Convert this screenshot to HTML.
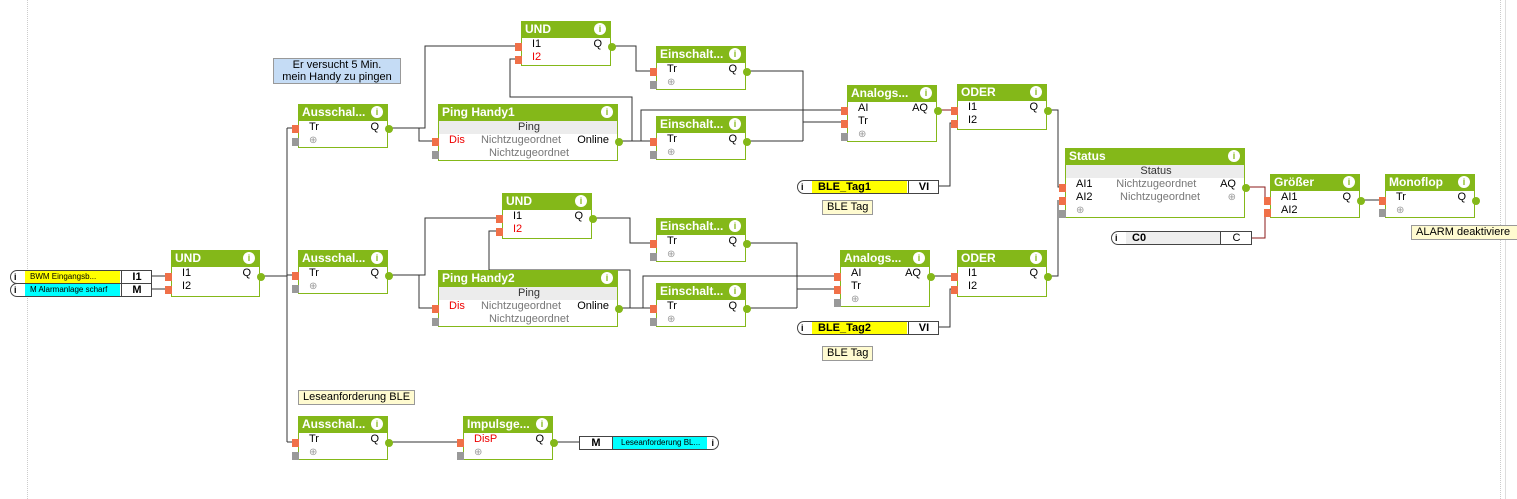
<!DOCTYPE html>
<html><head><meta charset="utf-8"><style>
body{margin:0;width:1517px;height:499px;background:#fff;position:relative;overflow:hidden;font-family:"Liberation Sans",sans-serif;font-size:11px;}
.b{position:absolute;background:#fff;border:1px solid #84b819;box-sizing:border-box;}
.h{background:#84b819;color:#fff;font-weight:bold;font-size:12px;height:17px;line-height:17px;padding-left:4px;position:relative;margin:-1px -1px 0 -1px;}
.h i{position:absolute;right:5px;top:2px;width:12px;height:12px;border-radius:6px;background:#fff;color:#84b819;font-style:normal;font-size:9px;line-height:12px;text-align:center;font-weight:bold;}
.r{height:13px;line-height:13px;padding:0 8px 0 10px;display:flex;justify-content:space-between;color:#000;white-space:nowrap;}
.g{background:#ececec;justify-content:center;color:#333;}
.n{color:#777;}
.red{color:#e00;}
.pl{color:#999;font-size:10px;}
.pi{position:absolute;left:-7px;width:7px;height:8px;background:#f07048;}
.px{position:absolute;left:-7px;width:7px;height:8px;background:#999;}
.po{position:absolute;right:-6px;width:8px;height:8px;border-radius:4px;background:#84b819;}
.lab{position:absolute;background:#fffbd0;border:1px solid #999;font-size:11px;line-height:13px;padding:0 4px;white-space:nowrap;}
.io{position:absolute;height:12px;border:1px solid #444;border-radius:7px 0 0 7px;background:#fff;font-size:11px;line-height:12px;}
.io .ic{position:absolute;left:3px;top:0;font-weight:bold;font-size:9px;}
.io .t{position:absolute;top:0;height:12px;}
</style></head><body>
<div style="position:absolute;left:27px;top:0;height:499px;border-left:1px dotted #ccc"></div>
<div style="position:absolute;left:1500px;top:0;height:499px;border-left:1px dotted #ccc"></div>
<div style="position:absolute;left:1505px;top:0;height:499px;border-left:1px solid #ddd"></div>
<svg width="1517" height="499" style="position:absolute;left:0;top:0" fill="none" stroke="#333" stroke-width="1">
<path d="M260 276H287M287 128V442M287 128H298M287 275H298M287 442H298"/>
<path d="M388 128H425V46H521M419 128V141H438"/>
<path d="M618 141H656M632 141V97H510V59H521M641 141V110H847"/>
<path d="M611 46H636V71H656"/>
<path d="M746 71H803V141M746 141H803M803 122H847"/>
<path d="M938 186H950V123H957"/>
<path d="M1047 110H1058V187H1065M1047 276H1058V200"/>
<path d="M1360 200H1385"/>
<path d="M388 275H425V218H502M419 275V308H438"/>
<path d="M618 308H656M630 308V270H489V231H502M643 308V276H840"/>
<path d="M592 218H630V243H656"/>
<path d="M746 243H797V308M746 308H797M797 289H840"/>
<path d="M930 276H957"/>
<path d="M938 327H950V289H957"/>
<path d="M388 442H463M553 442H579"/>
<path d="M151 276H171M151 289H171"/>
<path stroke="#8b1a1a" d="M937 110H957M1245 187H1265V200H1270M1251 238H1265V212H1270"/>
</svg>

<div class="lab" style="left:273px;top:58px;width:118px;background:#c5dcf5;text-align:center;line-height:12px">Er versucht 5 Min.<br>mein Handy zu pingen</div>
<div class="lab" style="left:298px;top:390px">Leseanforderung BLE</div>
<div class="lab" style="left:822px;top:200px">BLE Tag</div>
<div class="lab" style="left:822px;top:346px">BLE Tag</div>
<div class="lab" style="left:1411px;top:225px;padding-right:10px">ALARM deaktiviere</div>

<div class="io" style="left:10px;top:270px;width:140px"><span class="ic">i</span><span class="t" style="left:14px;width:95px;background:#ff0;font-size:8px;padding-left:5px;box-sizing:border-box">BWM Eingangsb...</span><span class="t" style="left:110px;width:30px;border-left:1px solid #444;text-align:center;font-weight:bold">I1</span></div>
<div class="io" style="left:10px;top:283px;width:140px"><span class="ic">i</span><span class="t" style="left:14px;width:95px;background:#0ff;font-size:8px;padding-left:5px;box-sizing:border-box">M Alarmanlage scharf</span><span class="t" style="left:110px;width:30px;border-left:1px solid #444;text-align:center;font-weight:bold">M</span></div>
<div class="io" style="left:797px;top:180px;width:140px"><span class="ic">i</span><span class="t" style="left:14px;width:95px;background:#ff0;padding-left:6px;box-sizing:border-box;font-weight:bold">BLE_Tag1</span><span class="t" style="left:110px;width:30px;border-left:1px solid #444;text-align:center;font-weight:bold">VI</span></div>
<div class="io" style="left:797px;top:321px;width:140px"><span class="ic">i</span><span class="t" style="left:14px;width:95px;background:#ff0;padding-left:6px;box-sizing:border-box;font-weight:bold">BLE_Tag2</span><span class="t" style="left:110px;width:30px;border-left:1px solid #444;text-align:center;font-weight:bold">VI</span></div>
<div class="io" style="left:1111px;top:231px;width:139px"><span class="ic">i</span><span class="t" style="left:14px;width:94px;background:#eee;padding-left:6px;box-sizing:border-box;font-weight:bold">C0</span><span class="t" style="left:108px;width:31px;border-left:1px solid #444;text-align:center">C</span></div>
<div class="io" style="left:579px;top:436px;width:138px;border-radius:0 7px 7px 0"><span class="t" style="left:0;width:32px;text-align:center;font-weight:bold;border-right:1px solid #444">M</span><span class="t" style="left:33px;width:94px;background:#0ff;font-size:8px;padding-left:8px;box-sizing:border-box">Leseanforderung BL...</span><span style="position:absolute;right:4px;top:0;font-weight:bold;font-size:9px">i</span></div>

<div class="b" style="left:171px;top:250px;width:89px;height:47px"><div class="h">UND<i>i</i></div><div class="r"><span>I1</span><span>Q</span></div><div class="r">I2</div><span class="pi" style="top:22px"></span><span class="pi" style="top:35px"></span><span class="po" style="top:22px"></span></div>

<div class="b" style="left:298px;top:104px;width:90px;height:44px"><div class="h">Ausschal...<i>i</i></div><div class="r"><span>Tr</span><span>Q</span></div><div class="r pl">⊕</div><span class="pi" style="top:20px"></span><span class="px" style="top:33px"></span><span class="po" style="top:20px"></span></div>
<div class="b" style="left:298px;top:250px;width:90px;height:44px"><div class="h">Ausschal...<i>i</i></div><div class="r"><span>Tr</span><span>Q</span></div><div class="r pl">⊕</div><span class="pi" style="top:21px"></span><span class="px" style="top:34px"></span><span class="po" style="top:21px"></span></div>
<div class="b" style="left:298px;top:416px;width:90px;height:44px"><div class="h">Ausschal...<i>i</i></div><div class="r"><span>Tr</span><span>Q</span></div><div class="r pl">⊕</div><span class="pi" style="top:22px"></span><span class="px" style="top:35px"></span><span class="po" style="top:22px"></span></div>

<div class="b" style="left:521px;top:21px;width:90px;height:45px"><div class="h">UND<i>i</i></div><div class="r"><span>I1</span><span>Q</span></div><div class="r red">I2</div><span class="pi" style="top:21px"></span><span class="pi" style="top:34px"></span><span class="po" style="top:21px"></span></div>
<div class="b" style="left:502px;top:193px;width:90px;height:46px"><div class="h">UND<i>i</i></div><div class="r"><span>I1</span><span>Q</span></div><div class="r red">I2</div><span class="pi" style="top:21px"></span><span class="pi" style="top:34px"></span><span class="po" style="top:21px"></span></div>

<div class="b" style="left:438px;top:104px;width:180px;height:57px"><div class="h">Ping Handy1<i>i</i></div><div class="r g">Ping</div><div class="r"><span class="red">Dis</span><span class="n">Nichtzugeordnet</span><span>Online</span></div><div class="r n" style="justify-content:center">Nichtzugeordnet</div><span class="pi" style="top:33px"></span><span class="px" style="top:46px"></span><span class="po" style="top:33px"></span></div>
<div class="b" style="left:438px;top:270px;width:180px;height:57px"><div class="h">Ping Handy2<i>i</i></div><div class="r g">Ping</div><div class="r"><span class="red">Dis</span><span class="n">Nichtzugeordnet</span><span>Online</span></div><div class="r n" style="justify-content:center">Nichtzugeordnet</div><span class="pi" style="top:34px"></span><span class="px" style="top:47px"></span><span class="po" style="top:34px"></span></div>

<div class="b" style="left:656px;top:46px;width:90px;height:44px"><div class="h">Einschalt...<i>i</i></div><div class="r"><span>Tr</span><span>Q</span></div><div class="r pl">⊕</div><span class="pi" style="top:21px"></span><span class="px" style="top:34px"></span><span class="po" style="top:21px"></span></div>
<div class="b" style="left:656px;top:116px;width:90px;height:44px"><div class="h">Einschalt...<i>i</i></div><div class="r"><span>Tr</span><span>Q</span></div><div class="r pl">⊕</div><span class="pi" style="top:21px"></span><span class="px" style="top:34px"></span><span class="po" style="top:21px"></span></div>
<div class="b" style="left:656px;top:218px;width:90px;height:44px"><div class="h">Einschalt...<i>i</i></div><div class="r"><span>Tr</span><span>Q</span></div><div class="r pl">⊕</div><span class="pi" style="top:21px"></span><span class="px" style="top:34px"></span><span class="po" style="top:21px"></span></div>
<div class="b" style="left:656px;top:283px;width:90px;height:44px"><div class="h">Einschalt...<i>i</i></div><div class="r"><span>Tr</span><span>Q</span></div><div class="r pl">⊕</div><span class="pi" style="top:21px"></span><span class="px" style="top:34px"></span><span class="po" style="top:21px"></span></div>

<div class="b" style="left:847px;top:85px;width:90px;height:57px"><div class="h">Analogs...<i>i</i></div><div class="r"><span>AI</span><span>AQ</span></div><div class="r">Tr</div><div class="r pl">⊕</div><span class="pi" style="top:21px"></span><span class="pi" style="top:34px"></span><span class="px" style="top:47px"></span><span class="po" style="top:21px"></span></div>
<div class="b" style="left:840px;top:250px;width:90px;height:57px"><div class="h">Analogs...<i>i</i></div><div class="r"><span>AI</span><span>AQ</span></div><div class="r">Tr</div><div class="r pl">⊕</div><span class="pi" style="top:22px"></span><span class="pi" style="top:35px"></span><span class="px" style="top:48px"></span><span class="po" style="top:22px"></span></div>

<div class="b" style="left:957px;top:84px;width:90px;height:46px"><div class="h">ODER<i>i</i></div><div class="r"><span>I1</span><span>Q</span></div><div class="r">I2</div><span class="pi" style="top:22px"></span><span class="pi" style="top:35px"></span><span class="po" style="top:22px"></span></div>
<div class="b" style="left:957px;top:250px;width:90px;height:47px"><div class="h">ODER<i>i</i></div><div class="r"><span>I1</span><span>Q</span></div><div class="r">I2</div><span class="pi" style="top:22px"></span><span class="pi" style="top:35px"></span><span class="po" style="top:22px"></span></div>

<div class="b" style="left:1065px;top:148px;width:180px;height:70px"><div class="h">Status<i>i</i></div><div class="r g">Status</div><div class="r"><span>AI1</span><span class="n">Nichtzugeordnet</span><span>AQ</span></div><div class="r"><span>AI2</span><span class="n">Nichtzugeordnet</span><span class="pl">⊕</span></div><div class="r pl">⊕</div><span class="pi" style="top:35px"></span><span class="pi" style="top:48px"></span><span class="px" style="top:61px"></span><span class="po" style="top:35px"></span></div>

<div class="b" style="left:1270px;top:174px;width:90px;height:44px"><div class="h">Größer<i>i</i></div><div class="r"><span>AI1</span><span>Q</span></div><div class="r">AI2</div><span class="pi" style="top:22px"></span><span class="pi" style="top:34px"></span><span class="po" style="top:22px"></span></div>
<div class="b" style="left:1385px;top:174px;width:90px;height:44px"><div class="h">Monoflop<i>i</i></div><div class="r"><span>Tr</span><span>Q</span></div><div class="r pl">⊕</div><span class="pi" style="top:22px"></span><span class="px" style="top:34px"></span><span class="po" style="top:22px"></span></div>

<div class="b" style="left:463px;top:416px;width:90px;height:44px"><div class="h">Impulsge...<i>i</i></div><div class="r"><span class="red">DisP</span><span>Q</span></div><div class="r pl">⊕</div><span class="pi" style="top:22px"></span><span class="px" style="top:35px"></span><span class="po" style="top:22px"></span></div>
</body></html>
